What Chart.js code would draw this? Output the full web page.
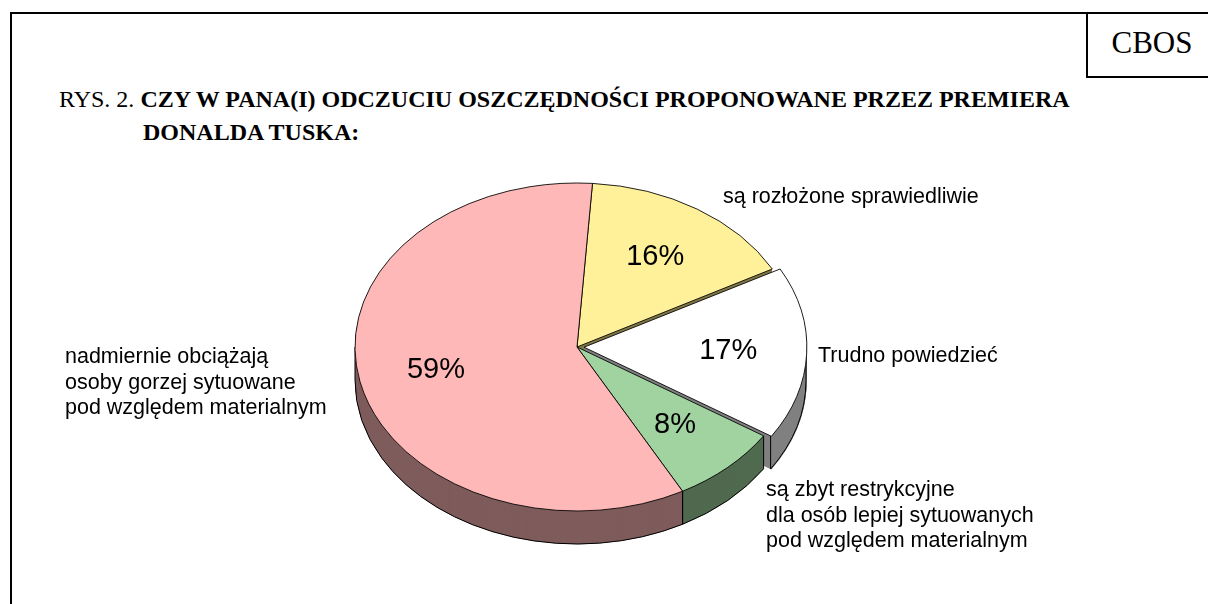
<!DOCTYPE html>
<html lang="pl">
<head>
<meta charset="UTF-8">
<script src="https://cdn.jsdelivr.net/npm/chart.js"></script>
<title>CBOS - oszczędności</title>
<style>
    body{margin:0;width:1208px;height:604px;overflow:hidden;background:#fff;position:relative;
         font-family:"Liberation Serif","Times New Roman",serif;color:#000;}
    #frame{position:absolute;left:10px;top:12px;width:1210px;height:610px;border-left:2px solid #000;border-top:2px solid #000;}
    #cbos{position:absolute;left:1086px;top:12px;width:130px;height:64px;border-left:2px solid #000;border-bottom:2px solid #000;}
    #cbos span{position:absolute;left:0;width:128px;top:15px;text-align:center;font-size:31px;line-height:31px;}
    .ttl{position:absolute;font-size:24px;line-height:24px;white-space:nowrap;}
    #t1{left:59px;top:87px;}
    #t2{left:143px;top:120px;font-weight:bold;}
    #wrap{position:absolute;left:0;top:0;width:1208px;height:604px;}
</style>
</head>
<body>
<div id="frame"></div>
<div id="cbos"><span>CBOS</span></div>
<div class="ttl" id="t1">RYS. 2. <b>CZY W PANA(I) ODCZUCIU OSZCZĘDNOŚCI PROPONOWANE PRZEZ PREMIERA</b></div>
<div class="ttl" id="t2">DONALDA TUSKA:</div>
<div id="wrap"><canvas id="myChart" width="1208" height="604"></canvas></div>
<script>
// dane
const categories = [
    ['są rozłożone sprawiedliwie'],
    ['Trudno powiedzieć'],
    ['są zbyt restrykcyjne', 'dla osób lepiej sytuowanych', 'pod względem materialnym'],
    ['nadmiernie obciążają', 'osoby gorzej sytuowane', 'pod względem materialnym']
];
const values = [16, 17, 8, 59];
const topColors = ['#FFF199', '#FFFFFF', '#A1D3A1', '#FFB8B8'];
const sideColors = ['#807849', '#808080', '#506A50', '#7F5C5C'];
const explode = [0, 28, 0, 0];

// wyglad "3D"
const TILT = 164 / 222;
const DEPTH = 33;
const labelPos = [[723, 203], [818, 362], [766, 496], [65, 363]];

function arcShift(arc, i){
    const half = (arc.startAngle + arc.endAngle) / 2;
    const off = explode[i] / 4;
    return [Math.cos(half) * off, Math.sin(half) * off * TILT];
}

const pie3d = {
    id: 'pie3d',
    beforeDatasetsDraw(chart){
        const ctx = chart.ctx;
        const meta = chart.getDatasetMeta(0);
        const cx = meta.data[0].x, cy = meta.data[0].y;
        ctx.save();
        ctx.translate(cx, cy);
        ctx.scale(1, TILT);
        ctx.translate(-cx, -cy);
        // boki
        const d = Math.round(DEPTH / TILT);
        for(let s = d; s > 0; s--){
            meta.data.forEach(function(arc, i){
                const o = arc.options;
                arc.options = Object.assign({}, o, {backgroundColor: sideColors[i], borderWidth: 0});
                ctx.save();
                ctx.translate(0, s);
                arc.draw(ctx);
                ctx.restore();
                arc.options = o;
            });
        }
        ctx.restore();
        // kontury bokow
        ctx.save();
        ctx.strokeStyle = '#000';
        ctx.lineWidth = 1;
        meta.data.forEach(function(arc, i){
            const sh = arcShift(arc, i);
            const x0 = cx + sh[0], y0 = cy + sh[1];
            const R = arc.outerRadius;
            for(let k = -1; k <= 1; k++){
                const lo = Math.max(arc.startAngle, 2 * Math.PI * k);
                const hi = Math.min(arc.endAngle, 2 * Math.PI * k + Math.PI);
                if(hi > lo){
                    ctx.beginPath();
                    ctx.ellipse(x0, y0 + DEPTH, R, R * TILT, 0, lo, hi);
                    ctx.stroke();
                    [lo, hi].forEach(function(a){
                        const px = x0 + R * Math.cos(a), py = y0 + R * TILT * Math.sin(a);
                        ctx.beginPath();
                        ctx.moveTo(px, py);
                        ctx.lineTo(px, py + DEPTH);
                        ctx.stroke();
                    });
                }
            }
        });
        ctx.restore();
        // gorna powierzchnia w tej samej skali
        ctx.save();
        ctx.translate(cx, cy);
        ctx.scale(1, TILT);
        ctx.translate(-cx, -cy);
    },
    afterDatasetsDraw(chart){
        const ctx = chart.ctx;
        ctx.restore();
        const meta = chart.getDatasetMeta(0);
        ctx.save();
        ctx.fillStyle = '#000';
        // procenty
        ctx.font = '29px "Liberation Sans", Arial, sans-serif';
        ctx.textAlign = 'center';
        ctx.textBaseline = 'middle';
        meta.data.forEach(function(arc, i){
            const sh = arcShift(arc, i);
            const half = (arc.startAngle + arc.endAngle) / 2;
            const r = arc.outerRadius * 0.65;
            const x = arc.x + sh[0] + r * Math.cos(half);
            const y = arc.y + sh[1] + r * TILT * Math.sin(half);
            ctx.fillText(values[i] + '%', x, y);
        });
        // opisy
        ctx.font = '21.5px "Liberation Sans", Arial, sans-serif';
        ctx.textAlign = 'left';
        ctx.textBaseline = 'alphabetic';
        categories.forEach(function(lines, i){
            lines.forEach(function(t, j){
                ctx.fillText(t, labelPos[i][0], labelPos[i][1] + j * 25.5);
            });
        });
        ctx.restore();
    }
};

new Chart(document.getElementById('myChart'), {
    type: 'pie',
    data: {
        labels: categories.map(function(l){ return l.join(' '); }),
        datasets: [{
            data: values,
            backgroundColor: topColors,
            borderColor: '#000',
            borderWidth: 1,
            offset: explode,
            radius: 222
        }]
    },
    options: {
        responsive: false,
        animation: false,
        rotation: 4,
        layout: {padding: {left: 0, right: 54, top: 90, bottom: 0}},
        plugins: {legend: {display: false}, tooltip: {enabled: false}}
    },
    plugins: [pie3d]
});
</script>
</body>
</html>
